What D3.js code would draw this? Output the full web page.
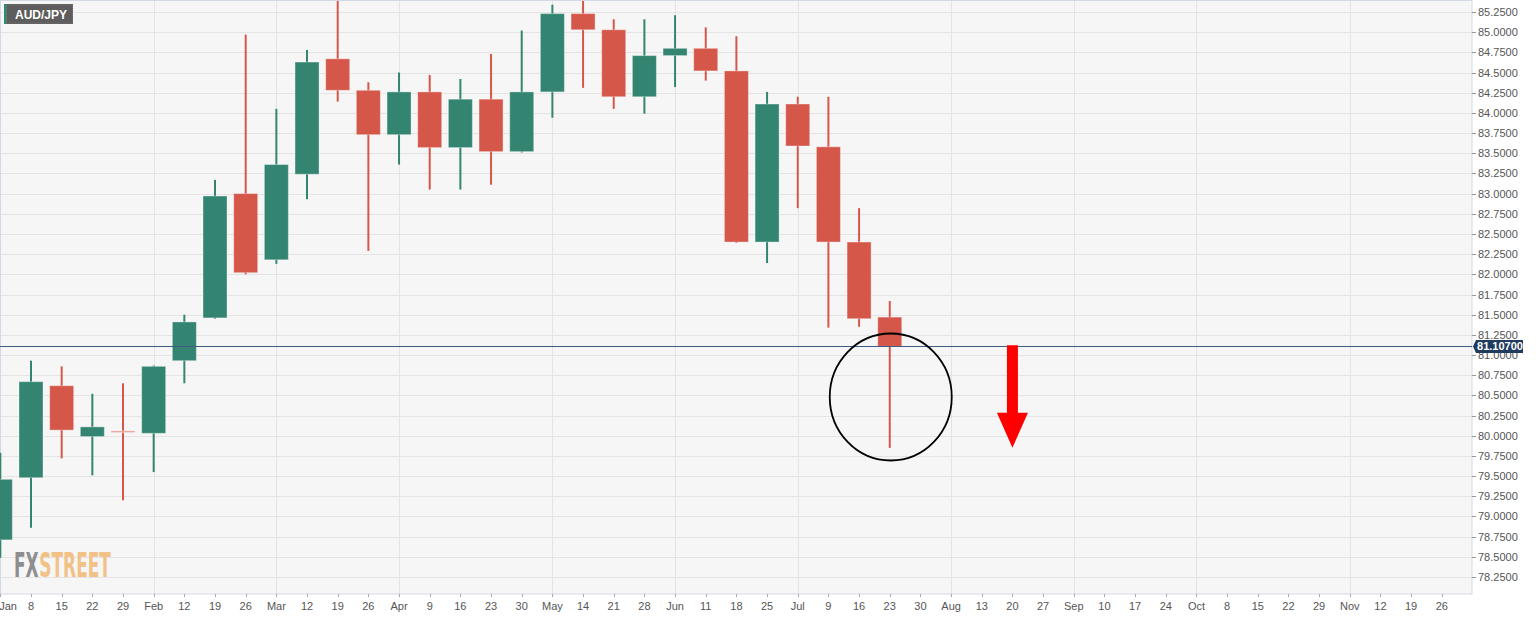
<!DOCTYPE html>
<html>
<head>
<meta charset="utf-8">
<script src="https://cdn.jsdelivr.net/npm/d3@7"></script>
<style>
  html, body { margin: 0; padding: 0; background: #ffffff; }
  svg { display: block; }
</style>
</head>
<body>
<svg id="chart" width="1536" height="618"></svg>
<script>
// ---- DATA ----
const symbol = "AUD/JPY";
const tickLabels = ["Jan","8","15","22","29","Feb","12","19","26","Mar","12","19","26",
  "Apr","9","16","23","30","May","14","21","28","Jun","11","18","25",
  "Jul","9","16","23","30","Aug","13","20","27","Sep","10","17","24",
  "Oct","8","15","22","29","Nov","12","19","26"];
const monthLabels = ["Jan","Feb","Mar","Apr","May","Jun","Jul","Aug","Sep","Oct","Nov"];
const openVals  = [78.71,79.48,80.62,79.99,80.06,80.03,80.93,81.46,83.00,82.18,83.24,84.67,84.28,83.73,84.26,83.57,84.17,83.52,84.26,85.23,85.03,84.20,84.71,84.80,84.52,82.40,84.11,83.58,82.40,81.47];
const highVals  = [79.79,80.93,80.86,80.52,80.65,80.87,81.50,83.17,84.97,84.05,84.78,85.45,84.38,84.50,84.47,84.42,84.73,85.02,85.34,85.45,85.16,85.16,85.21,85.06,84.95,84.26,84.20,84.20,82.82,81.67];
const lowVals   = [78.49,78.86,79.72,79.51,79.20,79.55,80.65,81.45,82.00,82.13,82.93,84.14,82.29,83.36,83.05,83.05,83.11,83.51,83.94,84.31,84.05,83.99,84.32,84.40,82.39,82.14,82.82,81.34,81.35,79.85];
const closeVals = [79.46,80.67,80.07,80.11,80.04,80.86,81.41,82.97,82.02,83.36,84.63,84.28,83.73,84.26,83.57,84.17,83.52,84.26,85.23,85.03,84.20,84.71,84.80,84.52,82.40,84.11,83.59,82.40,81.45,81.107];
const currentPrice = 81.107;
const yTicks = d3.range(78.25, 85.2501, 0.25);
const circleCenterIndex = 29, circleCenterPrice = 80.48;
const arrowIndex = 33, arrowTopPrice = 81.12, arrowTipPrice = 79.85;

// ---- LAYOUT ----
const plotRight = 1472, plotBottom = 594;
const svg = d3.select("#chart");

const x = d3.scaleLinear().domain([0, 47]).range([0.33, 1441.8]);
const y = d3.scaleLinear().domain([78.25, 85.25]).range([577, 12]);

const green = "#338571", red = "#d4574a";

svg.append("rect").attr("x", 0).attr("y", 0).attr("width", plotRight).attr("height", plotBottom)
  .attr("fill", "#f6f6f6");

svg.append("g").selectAll("line").data(yTicks).join("line")
  .attr("x1", 0).attr("x2", plotRight)
  .attr("y1", d => Math.round(y(d)) + 0.5).attr("y2", d => Math.round(y(d)) + 0.5)
  .attr("stroke", "#e4e4e4").attr("stroke-width", 1);

const monthIdx = tickLabels.map((t, i) => monthLabels.includes(t) ? i : -1).filter(i => i > 0);
svg.append("g").selectAll("line").data(monthIdx).join("line")
  .attr("x1", d => Math.round(x(d)) + 0.5).attr("x2", d => Math.round(x(d)) + 0.5)
  .attr("y1", 0).attr("y2", plotBottom)
  .attr("stroke", "#e4e4e4").attr("stroke-width", 1);

svg.append("rect").attr("x", 0.5).attr("y", 0.5).attr("width", plotRight - 0.5).attr("height", plotBottom - 0.5)
  .attr("fill", "none").attr("stroke", "#d3d9e8").attr("stroke-width", 1);

// FXSTREET logo: natural text, horizontally condensed with a transform
const logoFont = "DejaVu Sans Condensed, DejaVu Sans, sans-serif";
const logoG = svg.append("g");
const fxT = logoG.append("text").attr("x", 0).attr("y", 0)
  .attr("font-family", logoFont).attr("font-weight", "bold").attr("font-size", 33)
  .attr("fill", "#8e8e8e").text("FX");
const fxW = fxT.node().getComputedTextLength();
const stT = logoG.append("text").attr("x", fxW + 1).attr("y", 0)
  .attr("font-family", logoFont).attr("font-weight", "bold").attr("font-size", 33)
  .attr("fill", "#f2c185").text("STREET");
const totalW = fxW + 1 + stT.node().getComputedTextLength();
logoG.attr("transform", `translate(14,577) scale(${97 / totalW},1)`);

svg.append("defs").append("clipPath").attr("id", "plotclip")
  .append("rect").attr("x", 0).attr("y", 1).attr("width", plotRight).attr("height", plotBottom - 1);

const candles = openVals.map((o, i) => ({ i, o, h: highVals[i], l: lowVals[i], c: closeVals[i] }));
const cg = svg.append("g").attr("clip-path", "url(#plotclip)");
const bw = 24;
cg.selectAll("line.wick").data(candles).join("line").attr("class", "wick")
  .attr("x1", d => x(d.i)).attr("x2", d => x(d.i))
  .attr("y1", d => y(d.h)).attr("y2", d => y(d.l))
  .attr("stroke", d => d.c >= d.o ? green : red).attr("stroke-width", 2);
cg.selectAll("rect.body").data(candles).join("rect").attr("class", "body")
  .attr("x", d => x(d.i) - bw / 2).attr("width", bw)
  .attr("y", d => y(Math.max(d.o, d.c)))
  .attr("height", d => Math.max(1.5, Math.abs(y(d.o) - y(d.c))))
  .attr("fill", d => Math.abs(d.o - d.c) < 0.05 ? "#e79b93" : (d.c >= d.o ? green : red))
  .attr("stroke", "rgba(255,255,255,0.35)").attr("stroke-width", 1);

svg.append("line").attr("x1", 0).attr("x2", plotRight)
  .attr("y1", Math.round(y(currentPrice)) + 0.5).attr("y2", Math.round(y(currentPrice)) + 0.5)
  .attr("stroke", "#3e5c82").attr("stroke-width", 1);

svg.append("ellipse").attr("cx", x(circleCenterIndex) + 1).attr("cy", y(circleCenterPrice))
  .attr("rx", 61).attr("ry", 63.5)
  .attr("fill", "none").attr("stroke", "#000").attr("stroke-width", 1.8);

const ax = x(arrowIndex), aTop = y(arrowTopPrice), aTip = y(arrowTipPrice);
const headH = 35, shaftW = 11, headW = 31;
svg.append("path")
  .attr("d", `M${ax - shaftW/2},${aTop} L${ax + shaftW/2},${aTop} L${ax + shaftW/2},${aTip - headH} L${ax + headW/2},${aTip - headH} L${ax},${aTip} L${ax - headW/2},${aTip - headH} L${ax - shaftW/2},${aTip - headH} Z`)
  .attr("fill", "#ff0000");

// right axis
const ya = svg.append("g");
ya.selectAll("line").data(yTicks).join("line")
  .attr("x1", plotRight).attr("x2", plotRight + 4)
  .attr("y1", d => Math.round(y(d)) + 0.5).attr("y2", d => Math.round(y(d)) + 0.5)
  .attr("stroke", "#999");
ya.selectAll("text").data(yTicks).join("text")
  .attr("x", plotRight + 6).attr("y", d => y(d) + 4)
  .attr("font-family", "Liberation Sans, Arial, sans-serif").attr("font-size", 11)
  .attr("fill", "#555").text(d => d3.format(".4f")(d));

// price label
const py = y(currentPrice);
svg.append("path")
  .attr("d", `M${plotRight + 1},${py} L${plotRight + 4},${py - 6.5} L${plotRight + 51},${py - 6.5} L${plotRight + 51},${py + 6.5} L${plotRight + 4},${py + 6.5} Z`)
  .attr("fill", "#1f3b5e");
svg.append("text").attr("x", plotRight + 28).attr("y", py + 4)
  .attr("text-anchor", "middle")
  .attr("font-family", "Liberation Sans, Arial, sans-serif").attr("font-size", 11).attr("font-weight", "bold")
  .attr("fill", "#fff").text(d3.format(".5f")(currentPrice));

// bottom axis
const xa = svg.append("g");
xa.selectAll("line").data(tickLabels.map((t, i) => i)).join("line")
  .attr("x1", d => Math.round(x(d)) + 0.5).attr("x2", d => Math.round(x(d)) + 0.5)
  .attr("y1", plotBottom).attr("y2", plotBottom + 3)
  .attr("stroke", "#aaa");
xa.selectAll("text").data(tickLabels).join("text")
  .attr("x", (d, i) => i === 0 ? 8 : x(i)).attr("y", 610)
  .attr("text-anchor", "middle")
  .attr("font-family", "Liberation Sans, Arial, sans-serif").attr("font-size", 11)
  .attr("fill", "#555").text(d => d);

// symbol label
const sg = svg.append("g");
sg.append("rect").attr("x", 4).attr("y", 4).attr("width", 69).attr("height", 20).attr("fill", "#5d5d5d");
sg.append("rect").attr("x", 4).attr("y", 4).attr("width", 2.5).attr("height", 20).attr("fill", "#2e8b6e");
sg.append("rect").attr("x", 6.5).attr("y", 5).attr("width", 66).attr("height", 18)
  .attr("fill", "none").attr("stroke", "#8a8a8a").attr("stroke-dasharray", "1,1").attr("stroke-width", 0.6);
sg.append("text").attr("x", 15).attr("y", 18.5)
  .attr("font-family", "Liberation Sans, Arial, sans-serif").attr("font-size", 12).attr("font-weight", "bold")
  .attr("fill", "#fff").text(symbol);
</script>
</body>
</html>
